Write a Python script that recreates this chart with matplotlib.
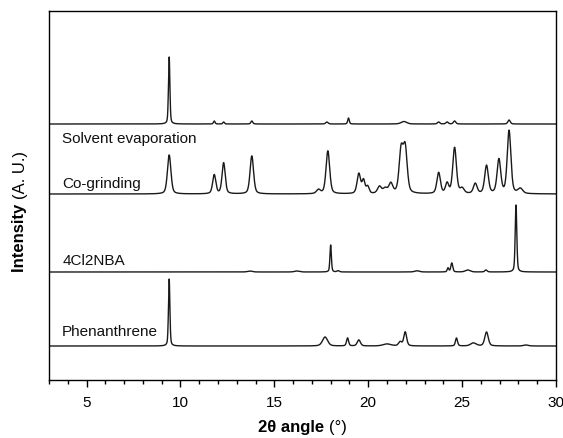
import numpy as np
import matplotlib
matplotlib.use("Agg")
import matplotlib.pyplot as plt
from matplotlib.ticker import MultipleLocator

plt.rcParams['font.family'] = ['Liberation Sans', 'DejaVu Sans']

# peak lists: position (2theta), height (a.u.), width (fwhm)
fenantreno_pos = [9.4, 17.7, 18.9, 19.5, 21.0, 21.7, 21.97, 24.7, 25.6, 26.3, 28.4]
fenantreno_alt = [67, 9, 8, 6, 2, 4, 14, 8, 3, 14, 1]
fenantreno_anc = [0.09, 0.32, 0.13, 0.2, 0.5, 0.2, 0.18, 0.13, 0.35, 0.22, 0.3]

nba_pos = [13.7, 16.2, 18.0, 18.4, 22.6, 24.25, 24.45, 25.3, 26.27, 27.87]
nba_alt = [1, 1, 27, 1.2, 1.2, 4, 9, 2, 2, 67]
nba_anc = [0.3, 0.3, 0.09, 0.15, 0.3, 0.1, 0.12, 0.3, 0.15, 0.1]

molienda_pos = [9.4, 11.8, 12.3, 13.8, 17.35, 17.85, 19.5, 19.75, 19.97, 20.6, 20.9,
                21.2, 21.75, 21.97, 23.75, 24.2, 24.6, 25.0, 25.7, 26.3, 26.96, 27.5, 28.1]
molienda_alt = [39, 19, 31, 38, 4, 43, 20, 13, 7, 7, 5,
                10, 42, 44, 21, 10, 46, 5, 10, 28, 34, 63, 5]
molienda_anc = [0.22, 0.2, 0.2, 0.22, 0.25, 0.23, 0.22, 0.18, 0.18, 0.25, 0.25,
                0.25, 0.25, 0.25, 0.22, 0.2, 0.23, 0.25, 0.23, 0.23, 0.23, 0.23, 0.3]

evaporacion_pos = [9.4, 11.8, 12.3, 13.8, 17.8, 18.95, 21.9, 23.75, 24.2, 24.6, 27.5]
evaporacion_alt = [67, 3, 2, 3, 2, 6, 2.5, 2, 2, 3, 4]
evaporacion_anc = [0.09, 0.1, 0.1, 0.12, 0.15, 0.1, 0.35, 0.15, 0.15, 0.15, 0.15]

etiquetas = ["Phenanthrene", "4Cl2NBA", "Co-grinding", "Solvent evaporation"]
desplazamientos = [34, 108, 186, 256]
etiquetas_y = [49, 120, 197, 242]

def perfil(x, pos, alt, anc):
    y = np.zeros_like(x)
    for p, h, w in zip(pos, alt, anc):
        g = np.exp(-4 * np.log(2) * ((x - p) / w) ** 2)
        l = 1 / (1 + 4 * ((x - p) / w) ** 2)
        y += h * (0.6 * g + 0.4 * l)
    return y

x = np.linspace(3, 30, 5401)
series = [
    perfil(x, fenantreno_pos, fenantreno_alt, fenantreno_anc),
    perfil(x, nba_pos, nba_alt, nba_anc),
    perfil(x, molienda_pos, molienda_alt, molienda_anc),
    perfil(x, evaporacion_pos, evaporacion_alt, evaporacion_anc),
]

fig = plt.figure(figsize=(5.63, 4.39), dpi=100)
ax = fig.add_axes([49 / 563, 1 - 381 / 439, (556 - 49) / 563, (381 - 12) / 439])

for y, d, nombre, ty in zip(series, desplazamientos, etiquetas, etiquetas_y):
    ax.plot(x, y + d, color='#1a1a1a', lw=1.0)
    ax.text(3.7, ty, nombre, fontsize=11, va='center', ha='left', color='#111111')

ax.set_xlim(3, 30)
ax.set_ylim(0, 369)
ax.set_yticks([])
ax.xaxis.set_major_locator(MultipleLocator(5))
ax.xaxis.set_minor_locator(MultipleLocator(1))
ax.tick_params(axis='x', which='major', direction='out', length=5, width=1, labelsize=11, pad=6)
ax.tick_params(axis='x', which='minor', direction='out', length=3, width=1)
for s in ax.spines.values():
    s.set_linewidth(1.0)

# etiquetas de ejes con parte en negrita
fig.text(329 / 563, 1 - 428 / 439, "2θ angle ", fontsize=12, fontweight='bold', ha='right', va='center')
fig.text(329 / 563, 1 - 428 / 439, "(°)", fontsize=12, ha='left', va='center')
fig.text(20 / 563, 1 - 199 / 439, "Intensity ", fontsize=12, fontweight='bold', rotation=90, ha='center', va='top')
fig.text(20 / 563, 1 - 199 / 439, "(A. U.)", fontsize=12, rotation=90, ha='center', va='bottom')

fig.savefig("out.png", dpi=100)
